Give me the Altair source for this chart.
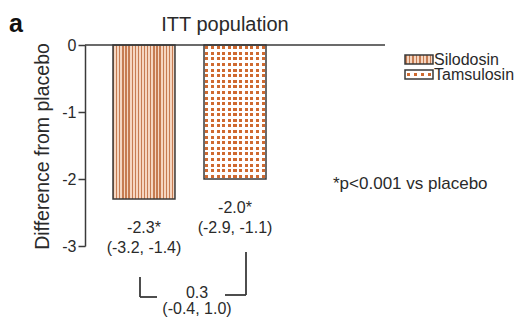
import altair as alt
import pandas as pd

# ---- data ----
drugs = ["Silodosin", "Tamsulosin"]
diff_vs_placebo = [-2.3, -2.0]
ci_low = [-3.2, -2.9]
ci_high = [-1.4, -1.1]
between_diff = 0.3
between_ci = [-0.4, 1.0]
y_ticks = [0, -1, -2, -3]
footnote = "*p<0.001 vs placebo"
panel_title = "ITT population"
y_title = "Difference from placebo"

FONT = "Liberation Sans"
DARK = "#3a3a3a"
TEXT = "#2a2a2a"

df = pd.DataFrame({
    "drug": drugs,
    "diff": diff_vs_placebo,
    "label": [f"{d:.1f}*\n({lo:.1f}, {hi:.1f})" for d, lo, hi in zip(diff_vs_placebo, ci_low, ci_high)],
})


def stripes(n, c_on, c_off, duty, direction="x", centered=False):
    stops = []
    for i in range(n):
        a = i / n
        b = (i + 1) / n
        if centered:
            s = a + (1 - duty) / 2 / n
            e = b - (1 - duty) / 2 / n
            stops += [(a, c_off), (s, c_off), (s, c_on), (e, c_on), (e, c_off), (b, c_off)]
        else:
            m = a + duty / n
            stops += [(a, c_on), (m, c_on), (m, c_off), (b, c_off)]
    gs = [alt.GradientStop(offset=round(o, 5), color=c) for o, c in stops]
    if direction == "x":
        return alt.LinearGradient(gradient="linear", stops=gs, x1=0, x2=1, y1=0, y2=0)
    return alt.LinearGradient(gradient="linear", stops=gs, x1=0, x2=0, y1=0, y2=1)


SIL_DARK = "#c67c52"
SIL_LIGHT = "#f5d6c1"
TAM_DOT = "#cf6a30"
WHITE = "rgba(255,255,255,1)"
CLEAR = "rgba(255,255,255,0)"

sil_fill = stripes(20, SIL_DARK, SIL_LIGHT, 0.42)
tam_cols = stripes(11, TAM_DOT, "#ffffff", 0.55, centered=True)
tam_rows = stripes(24, CLEAR, WHITE, 0.55, direction="y", centered=True)

x_enc = alt.X("drug:N", scale=alt.Scale(domain=drugs, range=[28, 181], paddingInner=0.319, paddingOuter=0), axis=None)
y_enc = alt.Y(
    "diff:Q",
    scale=alt.Scale(domain=[-3, 0], nice=False),
    axis=alt.Axis(
        values=y_ticks,
        labelExpr="datum.value == 0 ? '0' : '-' + abs(datum.value)",
        grid=False,
        domainColor=DARK, domainWidth=1.5,
        tickColor=DARK, tickWidth=1.5, tickSize=7,
        labelFont=FONT, labelFontSize=16, labelColor=TEXT, labelPadding=2,
        title=y_title, titleFont=FONT, titleFontSize=19.5, titleFontWeight="normal", titleColor=TEXT,
        titleAngle=-90, titleX=-43, titleY=101, titleAlign="center", titleBaseline="middle",
    ),
)

base = alt.Chart(df)

sil = base.transform_filter(alt.datum.drug == "Silodosin").mark_bar(
    fill=sil_fill, stroke=DARK, strokeWidth=1.5
).encode(x=x_enc, y=y_enc)

tam_base = base.transform_filter(alt.datum.drug == "Tamsulosin").mark_bar(
    fill=tam_cols, strokeWidth=0
).encode(x=x_enc, y=y_enc)

tam_over = base.transform_filter(alt.datum.drug == "Tamsulosin").mark_bar(
    fill=tam_rows, stroke=DARK, strokeWidth=1.5
).encode(x=x_enc, y=y_enc)

zero_line = alt.Chart(pd.DataFrame({"v": [0]})).mark_rule(color=DARK, strokeWidth=1.5).encode(
    y=alt.value(0), x=alt.value(0), x2=alt.value(300)
)

bar_labels = base.mark_text(
    font=FONT, fontSize=16, color=TEXT, baseline="top", align="center", dy=21, lineBreak="\n", lineHeight=20
).encode(x=x_enc, y=y_enc, text="label:N")

# comparison bracket
bracket = pd.DataFrame({
    "x": [55, 55, 161, 140],
    "x2": [55, 72, 161, 161],
    "y": [232, 252, 207, 250],
    "y2": [252, 252, 250, 250],
})
bracket_rules = alt.Chart(bracket).mark_rule(color=DARK, strokeWidth=1.8).encode(
    x=alt.X("x:Q", scale=None), x2="x2:Q", y=alt.Y("y:Q", scale=None), y2="y2:Q"
)

between_text = alt.Chart(pd.DataFrame({
    "t": [f"{between_diff:.1f}\n({between_ci[0]:.1f}, {between_ci[1]:.1f})"]
})).mark_text(
    font=FONT, fontSize=16, color=TEXT, baseline="top", align="center", lineBreak="\n", lineHeight=16
).encode(x=alt.value(112), y=alt.value(240), text="t:N")

title_text = alt.Chart(pd.DataFrame({"t": [panel_title]})).mark_text(
    font=FONT, fontSize=20, color=TEXT, baseline="alphabetic", align="center"
).encode(x=alt.value(140), y=alt.value(-14), text="t:N")

panel_letter = alt.Chart(pd.DataFrame({"t": ["a"]})).mark_text(
    font=FONT, fontSize=25, fontWeight="bold", color="#111111", baseline="alphabetic", align="left"
).encode(x=alt.value(-76), y=alt.value(-13), text="t:N")

foot_text = alt.Chart(pd.DataFrame({"t": [footnote]})).mark_text(
    font=FONT, fontSize=17, color=TEXT, baseline="middle", align="left"
).encode(x=alt.value(248), y=alt.value(139), text="t:N")

# legend (drawn by hand to carry the hatch patterns)
sw_sil = alt.Chart(pd.DataFrame({"v": [0]})).mark_rect(
    fill=stripes(8, SIL_DARK, SIL_LIGHT, 0.45), stroke=DARK, strokeWidth=1.5
).encode(x=alt.value(320), x2=alt.value(348), y=alt.value(10), y2=alt.value(19))

sw_tam_base = alt.Chart(pd.DataFrame({"v": [0]})).mark_rect(
    fill=stripes(4, TAM_DOT, "#ffffff", 0.45, centered=True), strokeWidth=0
).encode(x=alt.value(320), x2=alt.value(348), y=alt.value(25), y2=alt.value(34))

sw_tam_over = alt.Chart(pd.DataFrame({"v": [0]})).mark_rect(
    fill=stripes(1, CLEAR, WHITE, 0.4, direction="y", centered=True), stroke=DARK, strokeWidth=1.5
).encode(x=alt.value(320), x2=alt.value(348), y=alt.value(25), y2=alt.value(34))

leg_text = alt.Chart(pd.DataFrame({"t": drugs, "yy": [15, 30]})).mark_text(
    font=FONT, fontSize=16, color=TEXT, baseline="middle", align="left"
).encode(x=alt.value(349), y=alt.Y("yy:Q", scale=None), text="t:N")

chart = alt.layer(
    sil, tam_base, tam_over, zero_line, bar_labels, bracket_rules, between_text,
    title_text, panel_letter, foot_text, sw_sil, sw_tam_base, sw_tam_over, leg_text,
).properties(
    width=300, height=201,
    autosize=alt.AutoSizeParams(type="none"),
    padding={"left": 77, "top": 37, "right": 134, "bottom": 71},
).configure_view(stroke=None)

chart.save("out.html", embed_options={"renderer": "svg", "actions": False})
